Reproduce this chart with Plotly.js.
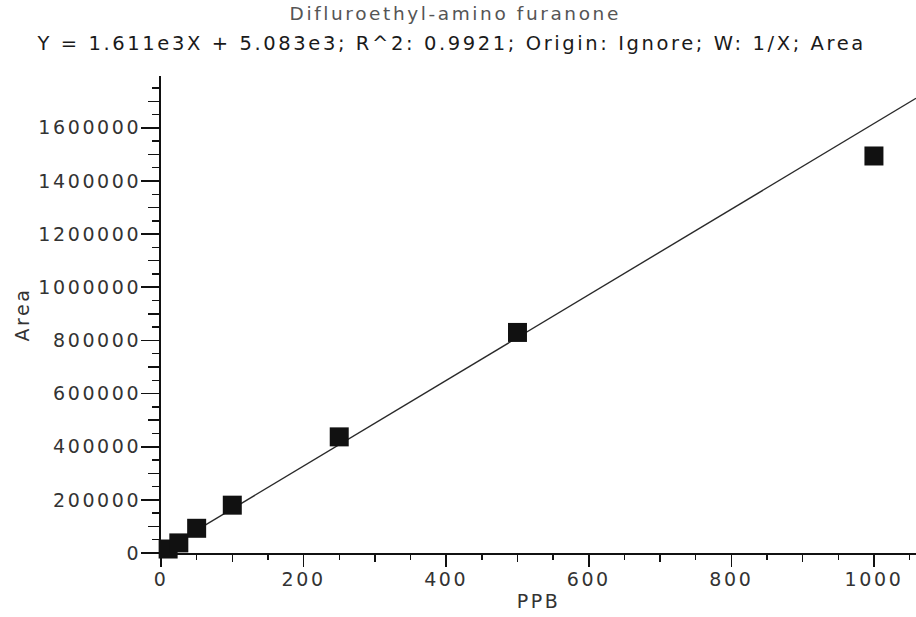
<!DOCTYPE html>
<html>
<head>
<meta charset="utf-8">
<script src="https://cdn.plot.ly/plotly-3.0.1.min.js"></script>
<style>
  html, body { margin: 0; padding: 0; background: #fff; }
  #chart { width: 916px; height: 617px; }
  #chart svg text { letter-spacing: 2.6px; }
</style>
</head>
<body>
<div id="chart"></div>
<script>
// ---- data ----
const concentrationsPPB = [10, 25, 50, 100, 250, 500, 1000];
const areas = [15000, 38000, 93000, 180000, 437000, 830000, 1494000];

// calibration fit shown in the chart subtitle
const fitSlope = 1611;
const fitIntercept = 5083;

const chartTitle = "Difluroethyl-amino furanone";
const equationLabel = "Y = 1.611e3X + 5.083e3; R^2: 0.9921; Origin: Ignore; W: 1/X; Area";
const xAxisTitle = "PPB";
const yAxisTitle = "Area";

const xRange = [0, 1059];
const yRange = [0, 1795000];

// fit line evaluated over the visible x range
const fitX = xRange.slice();
const fitY = fitX.map(v => fitSlope * v + fitIntercept);

const FONT = "DejaVu Sans, Liberation Sans, Arial, sans-serif";
const tickFont = { family: FONT, size: 19, color: "#333" };

const traces = [
  {
    type: "scatter", mode: "lines",
    x: fitX, y: fitY,
    line: { color: "#2a2a2a", width: 1.4 },
    hoverinfo: "skip", showlegend: false
  },
  {
    type: "scatter", mode: "markers",
    x: concentrationsPPB, y: areas,
    marker: { symbol: "square", size: 19, color: "#111", line: { width: 0 } },
    cliponaxis: false, showlegend: false
  },
  // empty traces so the overlay axes (medium tick marks) are drawn
  { type: "scatter", x: [], y: [], xaxis: "x2", yaxis: "y", showlegend: false, hoverinfo: "skip" },
  { type: "scatter", x: [], y: [], xaxis: "x", yaxis: "y2", showlegend: false, hoverinfo: "skip" }
];

const layout = {
  width: 916, height: 617,
  margin: { l: 161, r: 0, t: 76, b: 64 },
  paper_bgcolor: "#fff", plot_bgcolor: "#fff",
  showlegend: false,
  title: {
    text: chartTitle,
    font: { family: FONT, size: 18.5, color: "#555" },
    x: 0.497, xanchor: "center",
    y: 1 - 14 / 617, yanchor: "middle", yref: "container"
  },
  annotations: [{
    text: equationLabel,
    xref: "paper", yref: "paper",
    x: (451 - 161) / 755, y: 1 + (76 - 44) / 477,
    xanchor: "center", yanchor: "middle",
    showarrow: false,
    font: { family: FONT, size: 19.5, color: "#1a1a1a" }
  }],
  xaxis: {
    range: xRange, autorange: false,
    showgrid: false, zeroline: false,
    showline: true, linecolor: "#111", linewidth: 2,
    ticks: "outside", tick0: 0, dtick: 200, ticklen: 12, tickwidth: 1.6, tickcolor: "#111",
    minor: { ticks: "outside", tick0: 0, dtick: 50, ticklen: 5, tickwidth: 1.4, tickcolor: "#111", showgrid: false },
    tickfont: tickFont,
    ticklabelstandoff: -4,
    title: { text: xAxisTitle, font: { family: FONT, size: 19, color: "#333" }, standoff: 6 }
  },
  xaxis2: {
    overlaying: "x", matches: "x", anchor: "y", side: "bottom",
    range: xRange, autorange: false,
    showgrid: false, zeroline: false, showline: false, showticklabels: false,
    ticks: "outside", tick0: 0, dtick: 100, ticklen: 8, tickwidth: 1.4, tickcolor: "#111"
  },
  yaxis: {
    range: yRange, autorange: false,
    showgrid: false, zeroline: false,
    showline: true, linecolor: "#111", linewidth: 2,
    ticks: "outside", tick0: 0, dtick: 200000, ticklen: 18, tickwidth: 1.6, tickcolor: "#111",
    minor: { ticks: "outside", tick0: 0, dtick: 50000, ticklen: 7, tickwidth: 1.4, tickcolor: "#111", showgrid: false },
    tickfont: tickFont,
    tickformat: "d",
    ticklabelstandoff: -4,
    title: { text: yAxisTitle, font: { family: FONT, size: 19, color: "#333" }, standoff: 22 }
  },
  yaxis2: {
    overlaying: "y", matches: "y", anchor: "x", side: "left",
    range: yRange, autorange: false,
    showgrid: false, zeroline: false, showline: false, showticklabels: false,
    ticks: "outside", tick0: 0, dtick: 100000, ticklen: 12, tickwidth: 1.4, tickcolor: "#111"
  }
};

Plotly.newPlot("chart", traces, layout, { staticPlot: true, displayModeBar: false });
</script>
</body>
</html>
